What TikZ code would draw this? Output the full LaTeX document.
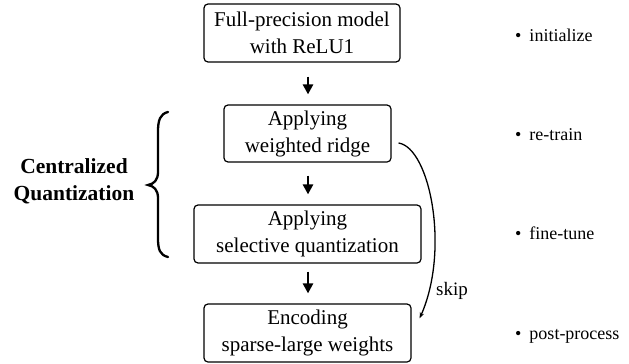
\documentclass[tikz,border=0pt]{standalone}
\usepackage{fontspec}
\setmainfont{Liberation Serif}
\usetikzlibrary{arrows.meta}
\begin{document}
\begin{tikzpicture}[x=1pt,y=-1pt,
  stepbox/.style={draw,line width=1.2pt,rounded corners=4pt,align=center,inner sep=0pt,
    font=\fontsize{21}{27}\selectfont},
  flowarrow/.style={line width=2.6pt,-{Triangle[length=10pt,width=10pt]}},
  bullettext/.style={anchor=west,inner sep=0pt,font=\fontsize{18}{22}\selectfont},
]
\useasboundingbox (0,0) rectangle (629,364);
\node[stepbox,minimum width=196pt,minimum height=58pt] (b1) at (302,33) {Full-precision model\\with ReLU1};
\node[stepbox,minimum width=167pt,minimum height=57pt] (b2) at (307.5,133.5) {Applying\\weighted ridge};
\node[stepbox,minimum width=227pt,minimum height=58pt] (b3) at (307.5,234) {Applying\\selective quantization};
\node[stepbox,minimum width=207pt,minimum height=58pt] (b4) at (307.5,333) {Encoding\\sparse-large weights};
\coordinate (ax) at (308,0);
\draw[flowarrow,shorten <=14pt,shorten >=10pt] (b1.south -| ax) -- (b2.north -| ax);
\draw[flowarrow,shorten <=13pt,shorten >=10pt] (b2.south -| ax) -- (b3.north -| ax);
\draw[flowarrow,shorten <=8pt,shorten >=10pt] (b3.south -| ax) -- (b4.north -| ax);
% skip
\coordinate (skipstart) at ([shift={(7pt,-9.5pt)}]b2.east);
\coordinate (skipend) at ([shift={(8pt,-15pt)}]b4.north east);
\draw[line width=1.3pt,-{Stealth[length=6pt,width=4.5pt]}] (skipstart) .. controls (430,148) and (450,250) .. (skipend);
\node[font=\fontsize{19}{22}\selectfont,inner sep=0pt] (skip) at (452,291) {skip};
% brace
\draw[line width=2.3pt,line cap=round] (168,112) .. controls (160,114) and (158,120) .. (158,132) -- (158,172) .. controls (158,180) and (154,184) .. (148,185) .. controls (154,186) and (158,190) .. (158,198) -- (158,238) .. controls (158,250) and (160,255) .. (168,257);
\node[align=center,font=\fontsize{21.5}{27}\selectfont\bfseries,inner sep=0pt] (cq) at (74,181) {Centralized\\Quantization};
% bullets
\node[bullettext] (l1) at (515,35) {•\hspace{8pt}initialize};
\node[bullettext] (l2) at (515,135) {•\hspace{8pt}re-train};
\node[bullettext] (l3) at (515,233) {•\hspace{8pt}fine-tune};
\node[bullettext] (l4) at (515,336) {•\hspace{8pt}post-process};
\end{tikzpicture}
\end{document}
